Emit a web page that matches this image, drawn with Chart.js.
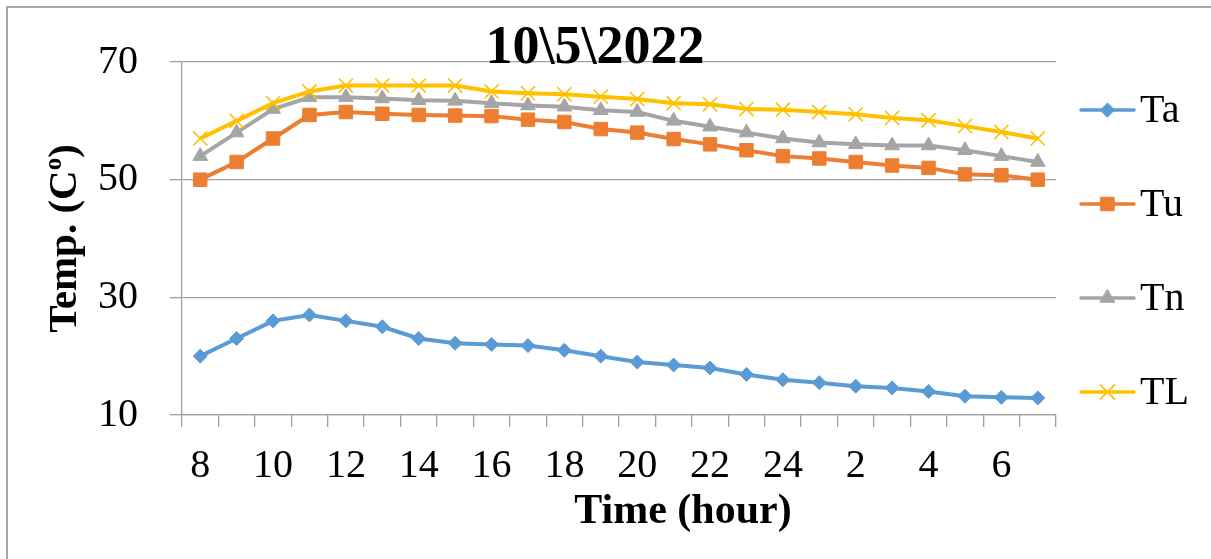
<!DOCTYPE html>
<html>
<head>
<meta charset="utf-8">
<title>10\5\2022</title>
<script src="https://cdn.jsdelivr.net/npm/chart.js@4.4.1/dist/chart.umd.min.js"></script>
<style>
  html, body { margin: 0; padding: 0; background: #ffffff; }
  #wrap { width: 1211px; height: 559px; }
</style>
</head>
<body>
<div id="wrap"><canvas id="c" width="1211" height="559"></canvas></div>
<script>
// Hour of day, starting 08:00 and running through the night to 07:00
const hours = ['8','9','10','11','12','13','14','15','16','17','18','19','20','21','22','23','24','1','2','3','4','5','6','7'];
const xTickLabels = ['8','10','12','14','16','18','20','22','24','2','4','6'];
const yTicks = [10, 30, 50, 70];

// Temperatures (C°)
const Ta = [20, 23, 26, 27, 26, 25, 23, 22.2, 22, 21.8, 21, 20, 19, 18.5, 18, 16.9, 16, 15.5, 14.9, 14.6, 14, 13.2, 13, 12.9];
const Tu = [50, 53, 57, 61, 61.5, 61.2, 61, 60.9, 60.8, 60.2, 59.8, 58.6, 58, 56.9, 56, 55, 54, 53.6, 53, 52.4, 52, 50.9, 50.75, 50];
const Tn = [54, 58, 62, 64, 64, 63.8, 63.5, 63.4, 63, 62.6, 62.4, 61.8, 61.5, 60, 59, 58, 57, 56.3, 56, 55.8, 55.8, 55, 54, 53];
const TL = [57, 60, 63, 65, 66, 66, 66, 66, 65, 64.7, 64.5, 64.1, 63.7, 63, 62.8, 62, 61.9, 61.5, 61.1, 60.5, 60.1, 59.1, 58.1, 57];

const chartTitle = '10\\5\\2022';
const xTitle = 'Time (hour)';
const yTitleMain = 'Temp. (C';
const yTitleSup = 'o';
const yTitleEnd = ')';

const FONT = '"Liberation Serif", "Times New Roman", serif';
const GRID = '#a0a0a0';

function seriesStyle(color, pointStyle, radius, pointBorderWidth, order) {
  return {
    borderColor: color,
    backgroundColor: color,
    pointBackgroundColor: color,
    pointBorderColor: color,
    pointStyle: pointStyle,
    pointRadius: radius,
    pointHoverRadius: radius,
    pointBorderWidth: pointBorderWidth,
    borderWidth: 4,
    tension: 0,
    fill: false,
    order: order
  };
}

const datasets = [
  Object.assign({ label: 'Ta', data: Ta }, seriesStyle('#5B9BD5', 'rectRot', 7, 1, 3)),
  Object.assign({ label: 'Tu', data: Tu }, seriesStyle('#ED7D31', 'rect', 9.5, 1, 2)),
  Object.assign({ label: 'Tn', data: Tn }, seriesStyle('#A5A5A5', 'triangle', 8.5, 1, 1)),
  Object.assign({ label: 'TL', data: TL }, seriesStyle('#FFC000', 'crossRot', 10, 1.6, 0))
];

// Frame, titles and the line-and-marker legend
const decor = {
  id: 'decor',
  beforeDraw(chart) {
    const ctx = chart.ctx;
    ctx.save();
    ctx.fillStyle = '#ffffff';
    ctx.fillRect(0, 0, chart.width, chart.height);
    ctx.strokeStyle = '#a6a6a6';
    ctx.lineWidth = 2;
    ctx.strokeRect(7, 7, chart.width + 40, chart.height + 40);
    ctx.restore();
  },
  afterDraw(chart) {
    const ctx = chart.ctx;
    const area = chart.chartArea;
    const midX = (area.left + area.right) / 2;
    const midY = (area.top + area.bottom) / 2;
    ctx.save();
    ctx.fillStyle = '#000000';

    // chart title
    ctx.font = 'bold 54px ' + FONT;
    ctx.textAlign = 'center';
    ctx.textBaseline = 'alphabetic';
    ctx.fillText(chartTitle, midX - 24, area.top + 1);

    // x axis title
    ctx.font = 'bold 42px ' + FONT;
    ctx.fillText(xTitle, midX + 64, 523);

    // y axis title with raised "o"
    ctx.save();
    ctx.translate(76, midY);
    ctx.rotate(-Math.PI / 2);
    ctx.textAlign = 'left';
    const mainFont = 'bold 41px ' + FONT;
    const supFont = 'bold 25px ' + FONT;
    ctx.font = mainFont;
    const w1 = ctx.measureText(yTitleMain).width;
    const w3 = ctx.measureText(yTitleEnd).width;
    ctx.font = supFont;
    const w2 = ctx.measureText(yTitleSup).width;
    let x0 = -(w1 + w2 + w3) / 2;
    ctx.font = mainFont;
    ctx.fillText(yTitleMain, x0, 0);
    ctx.font = supFont;
    ctx.fillText(yTitleSup, x0 + w1, -15);
    ctx.font = mainFont;
    ctx.fillText(yTitleEnd, x0 + w1 + w2, 0);
    ctx.restore();

    // legend
    const lx0 = area.right + 25, lx1 = area.right + 78, mx = (lx0 + lx1) / 2;
    ctx.font = '40px ' + FONT;
    ctx.textAlign = 'left';
    ctx.textBaseline = 'middle';
    chart.data.datasets.forEach((ds, i) => {
      const y = 110 + i * 94;
      ctx.strokeStyle = ds.borderColor;
      ctx.lineWidth = 3.5;
      ctx.lineCap = 'round';
      ctx.beginPath();
      ctx.moveTo(lx0, y);
      ctx.lineTo(lx1, y);
      ctx.stroke();
      ctx.fillStyle = ds.pointBackgroundColor;
      ctx.strokeStyle = ds.pointBorderColor;
      ctx.lineWidth = ds.pointBorderWidth;
      Chart.helpers.drawPoint(ctx, {
        pointStyle: ds.pointStyle,
        radius: ds.pointRadius,
        borderWidth: ds.pointBorderWidth,
        rotation: 0
      }, mx, y);
      ctx.fillStyle = '#000000';
      ctx.fillText(ds.label, area.right + 84, y + 1);
    });
    ctx.restore();
  }
};

new Chart(document.getElementById('c'), {
  type: 'line',
  data: { labels: hours, datasets: datasets },
  plugins: [decor],
  options: {
    responsive: false,
    animation: false,
    events: [],
    layout: { padding: { left: 66, right: 155, top: 62, bottom: 54 } },
    plugins: {
      legend: { display: false },
      title: { display: false },
      tooltip: { enabled: false }
    },
    scales: {
      x: {
        type: 'category',
        offset: true,
        grid: {
          display: true,
          offset: true,
          drawOnChartArea: false,
          drawTicks: true,
          tickLength: 12,
          color: GRID,
          lineWidth: 1.3
        },
        border: { display: true, color: GRID, width: 1.3 },
        ticks: {
          autoSkip: false,
          maxRotation: 0,
          minRotation: 0,
          padding: 19,
          color: '#000000',
          font: { family: FONT, size: 40, lineHeight: 1 },
          callback: function (value, index) {
            const h = hours[index];
            return xTickLabels.includes(h) ? h : '';
          }
        }
      },
      y: {
        min: 10,
        max: 70,
        afterBuildTicks: scale => { scale.ticks = yTicks.map(v => ({ value: v })); },
        grid: {
          color: GRID,
          lineWidth: 1.3,
          drawTicks: true,
          tickLength: 12
        },
        border: { display: true, color: GRID, width: 1.3 },
        ticks: {
          padding: 32,
          color: '#000000',
          font: { family: FONT, size: 40, lineHeight: 1 }
        }
      }
    }
  }
});
</script>
</body>
</html>
